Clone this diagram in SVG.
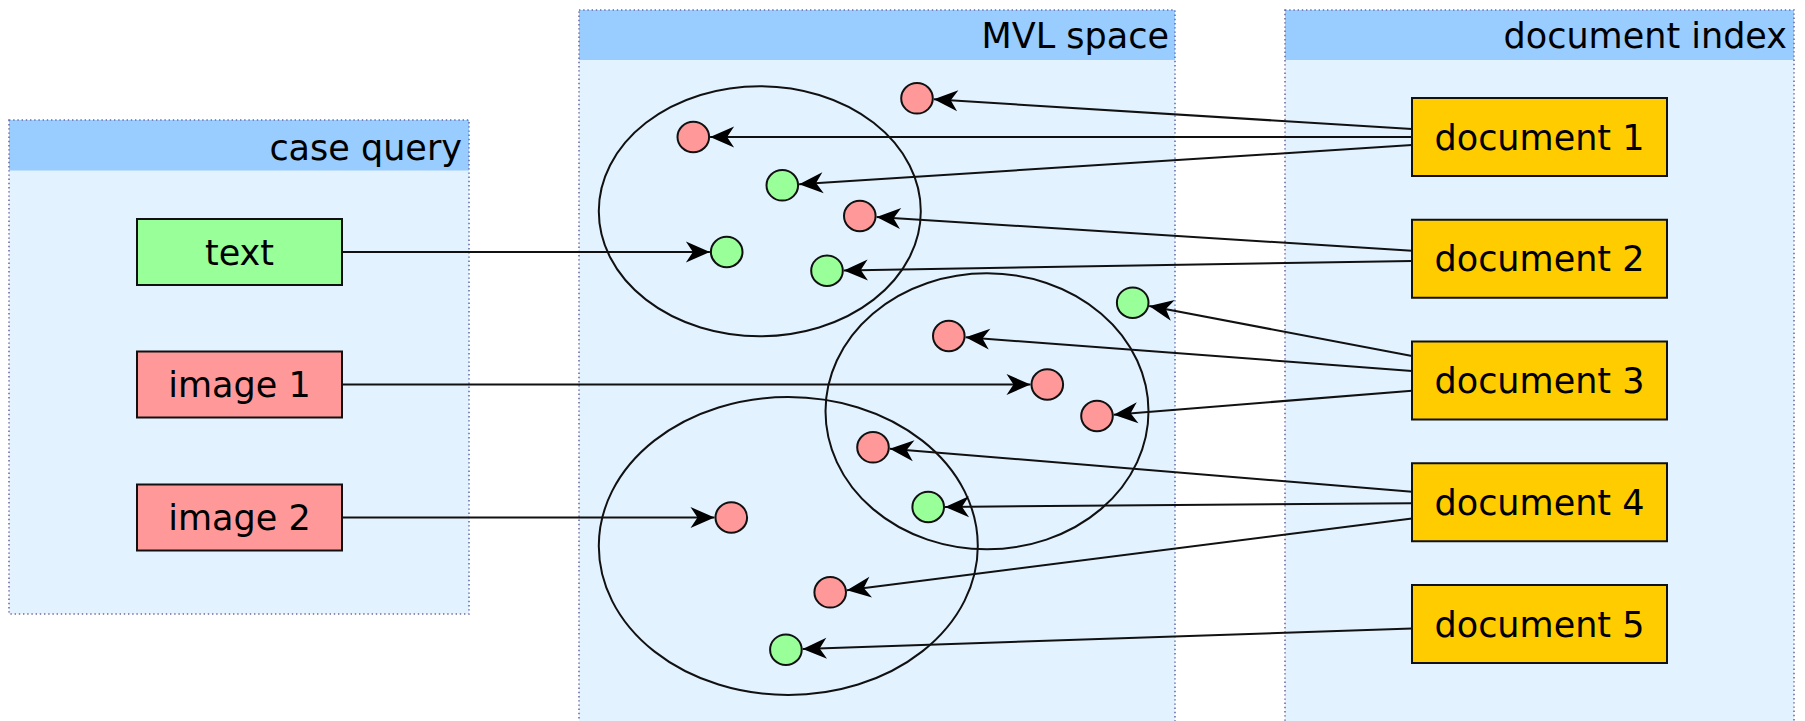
<svg xmlns="http://www.w3.org/2000/svg" width="1805" height="721" viewBox="0 0 1805 721">
<style>
text{font-family:"DejaVu Sans","Liberation Sans",sans-serif;font-size:35px;fill:#000}
.pbody{fill:#e2f2ff;stroke:none}
.phead{fill:#99ccff;stroke:none}
.pborder{fill:none;stroke:#6b6ba8;stroke-width:1.6;stroke-dasharray:1.4 2.8}
.box{stroke:#111;stroke-width:2}
.g{fill:#99ff99}
.r{fill:#ff9999}
.y{fill:#ffcc00}
.dot{stroke:#111;stroke-width:2}
.cluster{fill:none;stroke:#111;stroke-width:2}
.edge{fill:none;stroke:#111;stroke-width:2;marker-end:url(#arr)}
</style>
<defs>
<marker id="arr" markerUnits="userSpaceOnUse" markerWidth="30" markerHeight="26" viewBox="-26 -13 28 26" refX="0" refY="0" orient="auto">
<path d="M0,0 L-24,-10.5 L-17,0 L-24,10.5 Z" fill="#000"/>
</marker>
</defs>
<g id="panel-case-query">
<rect class="pbody" x="9" y="120" width="460" height="494"/>
<rect class="phead" x="9" y="120" width="460" height="50.5"/>
<rect class="pborder" x="9" y="120" width="460" height="494"/>
<text x="462" y="159.5" text-anchor="end">case query</text>
</g>
<g id="panel-mvl-space">
<rect class="pbody" x="579" y="10" width="596" height="720"/>
<rect class="phead" x="579" y="10" width="596" height="50"/>
<rect class="pborder" x="579" y="10" width="596" height="720"/>
<text x="1169" y="48" text-anchor="end">MVL space</text>
</g>
<g id="panel-document-index">
<rect class="pbody" x="1285" y="10" width="509" height="720"/>
<rect class="phead" x="1285" y="10" width="509" height="50"/>
<rect class="pborder" x="1285" y="10" width="509" height="720"/>
<text x="1787" y="47.5" text-anchor="end">document index</text>
</g>
<g id="clusters">
<ellipse class="cluster" cx="759.8" cy="211.2" rx="161" ry="125"/>
<ellipse class="cluster" cx="987" cy="411.3" rx="161.5" ry="138"/>
<ellipse class="cluster" cx="788.3" cy="546" rx="189.5" ry="149"/>
</g>
<g id="connectors">
<path class="edge" d="M342,252 L709.9,252"/>
<path class="edge" d="M342,384.5 L1030.5,384.5"/>
<path class="edge" d="M342,517.5 L714.5,517.5"/>
<path class="edge" d="M1412,129.1 L933.8,99.3"/>
<path class="edge" d="M1412,137 L710.1,137"/>
<path class="edge" d="M1412,145.1 L799.1,184.2"/>
<path class="edge" d="M1412,250.7 L876.6,217.1"/>
<path class="edge" d="M1412,260.9 L843.8,270.4"/>
<path class="edge" d="M1412,356.1 L1149.2,305.9"/>
<path class="edge" d="M1412,370.9 L965.6,337.3"/>
<path class="edge" d="M1412,390.7 L1113.7,414.7"/>
<path class="edge" d="M1412,491.7 L889.7,448.7"/>
<path class="edge" d="M1412,503.2 L945,506.9"/>
<path class="edge" d="M1412,518.4 L846.9,590.2"/>
<path class="edge" d="M1412,628.4 L802.7,649.1"/>
</g>
<g id="dots">
<ellipse id="dot-a" class="dot r" cx="917" cy="98.3" rx="15.8" ry="15.3"/>
<ellipse id="dot-b" class="dot r" cx="693.3" cy="137" rx="15.8" ry="15.3"/>
<ellipse id="dot-c" class="dot g" cx="782.3" cy="185.3" rx="15.8" ry="15.3"/>
<ellipse id="dot-d" class="dot r" cx="859.8" cy="216" rx="15.8" ry="15.3"/>
<ellipse id="dot-e" class="dot g" cx="726.7" cy="252" rx="15.8" ry="15.3"/>
<ellipse id="dot-f" class="dot g" cx="827" cy="270.7" rx="15.8" ry="15.3"/>
<ellipse id="dot-g" class="dot g" cx="1132.7" cy="302.7" rx="15.8" ry="15.3"/>
<ellipse id="dot-h" class="dot r" cx="948.8" cy="336" rx="15.8" ry="15.3"/>
<ellipse id="dot-i" class="dot r" cx="1047.3" cy="384.5" rx="15.8" ry="15.3"/>
<ellipse id="dot-j" class="dot r" cx="1097" cy="416" rx="15.8" ry="15.3"/>
<ellipse id="dot-k" class="dot r" cx="873" cy="447.3" rx="15.8" ry="15.3"/>
<ellipse id="dot-l" class="dot g" cx="928.2" cy="507" rx="15.8" ry="15.3"/>
<ellipse id="dot-m" class="dot r" cx="731.3" cy="517.5" rx="15.8" ry="15.3"/>
<ellipse id="dot-n" class="dot r" cx="830.2" cy="592.3" rx="15.8" ry="15.3"/>
<ellipse id="dot-o" class="dot g" cx="785.9" cy="649.7" rx="15.8" ry="15.3"/>
</g>
<g id="node-text">
<rect class="box g" x="137" y="219" width="205" height="66"/>
<text x="239.5" y="264.5" text-anchor="middle">text</text>
</g>
<g id="node-image-1">
<rect class="box r" x="137" y="351.5" width="205" height="66"/>
<text x="239.5" y="397" text-anchor="middle">image 1</text>
</g>
<g id="node-image-2">
<rect class="box r" x="137" y="484.5" width="205" height="66"/>
<text x="239.5" y="530" text-anchor="middle">image 2</text>
</g>
<g id="node-document-1">
<rect class="box y" x="1412" y="98" width="255" height="78"/>
<text x="1539.5" y="149.5" text-anchor="middle">document 1</text>
</g>
<g id="node-document-2">
<rect class="box y" x="1412" y="219.75" width="255" height="78"/>
<text x="1539.5" y="271.25" text-anchor="middle">document 2</text>
</g>
<g id="node-document-3">
<rect class="box y" x="1412" y="341.5" width="255" height="78"/>
<text x="1539.5" y="393" text-anchor="middle">document 3</text>
</g>
<g id="node-document-4">
<rect class="box y" x="1412" y="463.25" width="255" height="78"/>
<text x="1539.5" y="514.75" text-anchor="middle">document 4</text>
</g>
<g id="node-document-5">
<rect class="box y" x="1412" y="585" width="255" height="78"/>
<text x="1539.5" y="636.5" text-anchor="middle">document 5</text>
</g>
</svg>
